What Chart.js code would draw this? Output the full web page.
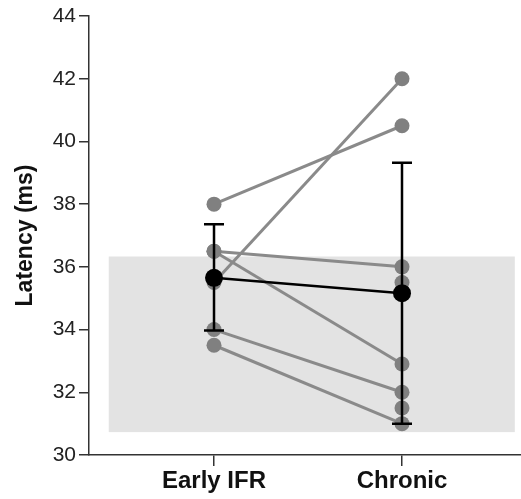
<!DOCTYPE html>
<html>
<head>
<meta charset="utf-8">
<script src="https://cdn.jsdelivr.net/npm/chart.js@4"></script>
<style>
  body { margin: 0; background: #fff; overflow: hidden; }
  canvas { display: block; }
</style>
</head>
<body>
<canvas id="latencyChart" width="521" height="499"></canvas>
<script>
// data
const categories = ['Early IFR', 'Chronic'];
const earlyVals = [38, 35.5, 36.5, 36.5, 34, 33.5];
const chronicVals = [40.5, 42, 36, 32.9, 32, 31];
const chronicOnly = [35.5, 31.5];
const meanVals = [35.65, 35.16];
const errLow = [33.97, 31.0];
const errHigh = [37.36, 39.32];
const bandY = [30.73, 36.33];
const bandX = [-0.56, 1.6];
const yTicks = [30, 32, 34, 36, 38, 40, 42, 44];

window.onload = () => {
   renderLatencyChart();
};

// grey normal-range band behind the data
const bandPlugin = {
   id: 'band',
   beforeDatasetsDraw(chart) {
       const { ctx, scales: { x, y } } = chart;
       const x0 = x.getPixelForValue(bandX[0]);
       const x1 = x.getPixelForValue(bandX[1]);
       const y0 = y.getPixelForValue(bandY[1]);
       const y1 = y.getPixelForValue(bandY[0]);
       ctx.save();
       ctx.fillStyle = '#e3e3e3';
       ctx.fillRect(x0, y0, x1 - x0, y1 - y0);
       ctx.restore();
   }
};

// error bars (SD) on the group means
const errorBarPlugin = {
   id: 'errorBars',
   afterDatasetsDraw(chart) {
       const { ctx, scales: { x, y } } = chart;
       ctx.save();
       ctx.strokeStyle = '#000';
       ctx.lineWidth = 2.5;
       for (let i = 0; i < categories.length; i++) {
           const px = x.getPixelForValue(i);
           const top = y.getPixelForValue(errHigh[i]);
           const bot = y.getPixelForValue(errLow[i]);
           ctx.beginPath();
           ctx.moveTo(px, top);
           ctx.lineTo(px, bot);
           ctx.moveTo(px - 10, top);
           ctx.lineTo(px + 10, top);
           ctx.moveTo(px - 10, bot);
           ctx.lineTo(px + 10, bot);
           ctx.stroke();
       }
       ctx.restore();
   }
};

function renderLatencyChart() {
   var ctx = document.getElementById('latencyChart').getContext('2d');

   var datasets = [];
   earlyVals.forEach((v, i) => {
       datasets.push({
           data: [{ x: 0, y: v }, { x: 1, y: chronicVals[i] }],
           showLine: true,
           borderColor: '#8a8a8a',
           borderWidth: 3,
           backgroundColor: '#808080',
           pointRadius: 7.5,
           pointBorderWidth: 0,
           order: 3
       });
   });
   datasets.push({
       data: chronicOnly.map(v => ({ x: 1, y: v })),
       showLine: false,
       backgroundColor: '#808080',
       pointRadius: 7.5,
       pointBorderWidth: 0,
       order: 3
   });
   datasets.push({
       data: meanVals.map((v, i) => ({ x: i, y: v })),
       showLine: true,
       borderColor: '#000',
       borderWidth: 2.5,
       backgroundColor: '#000',
       pointRadius: 9,
       pointBorderWidth: 0,
       order: 1
   });

   new Chart(ctx, {
       type: 'scatter',
       data: { datasets: datasets },
       options: {
           responsive: false,
           animation: false,
           layout: { autoPadding: false, padding: { top: 16, right: 0, left: 0, bottom: 0 } },
           plugins: {
               legend: { display: false },
               tooltip: { enabled: false }
           },
           scales: {
               x: {
                   type: 'linear',
                   min: -0.665,
                   max: 1.633,
                   afterBuildTicks: (scale) => {
                       scale.ticks = categories.map((c, i) => ({ value: i }));
                   },
                   afterFit: (scale) => {
                       scale.height = 44;
                       scale.paddingLeft = 0;
                       scale.paddingRight = 0;
                   },
                   grid: {
                       display: true,
                       drawOnChartArea: false,
                       drawTicks: true,
                       tickLength: 11,
                       color: '#333',
                       lineWidth: 1.5
                   },
                   border: { display: true, color: '#333', width: 1.5 },
                   ticks: {
                       callback: (v) => categories[v],
                       color: '#111',
                       padding: 1,
                       maxRotation: 0,
                       font: { family: 'Liberation Sans, Arial', size: 24, weight: 'bold' }
                   }
               },
               y: {
                   min: 30,
                   max: 44,
                   afterBuildTicks: (scale) => {
                       scale.ticks = yTicks.map(v => ({ value: v }));
                   },
                   afterFit: (scale) => {
                       scale.width = 89;
                       scale.paddingTop = 0;
                       scale.paddingBottom = 0;
                   },
                   grid: {
                       display: true,
                       drawOnChartArea: false,
                       drawTicks: true,
                       tickLength: 10,
                       color: '#333',
                       lineWidth: 1.5
                   },
                   border: { display: true, color: '#333', width: 1.5 },
                   title: {
                       display: true,
                       text: 'Latency (ms)',
                       color: '#111',
                       padding: { top: 12, bottom: 0 },
                       font: { family: 'Liberation Sans, Arial', size: 23, weight: 'bold' }
                   },
                   ticks: {
                       color: '#222',
                       padding: 3,
                       font: { family: 'Liberation Sans, Arial', size: 21 }
                   }
               }
           }
       },
       plugins: [bandPlugin, errorBarPlugin]
   });
}
</script>
</body>
</html>
